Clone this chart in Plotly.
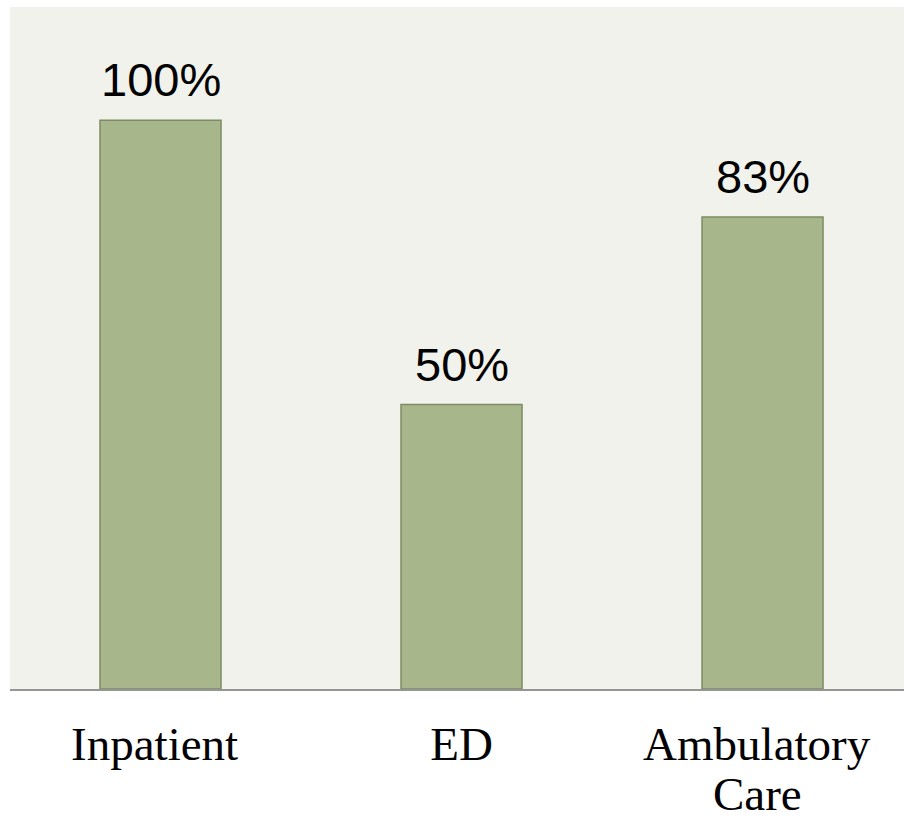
import plotly.graph_objects as go

categories = ["Inpatient", "ED", "Ambulatory Care"]
values = [100, 50, 83]
labels = ["100%", "50%", "83%"]
tick_lines = [["Inpatient\u00a0"], ["ED"], ["Ambulatory\u00a0", "Care\u00a0"]]

fig = go.Figure()
fig.add_trace(go.Bar(
    x=categories, y=values,
    width=0.402,
    marker=dict(color="#a7b78b", line=dict(color="#7d8c63", width=1.5)),
    hoverinfo="skip",
))
for c, v, t in zip(categories, values, labels):
    fig.add_annotation(x=c, y=v, text=t, showarrow=False, yanchor="bottom",
                       yshift=12, font=dict(family="Liberation Sans, Arial", size=47, color="#000"))

serif = dict(family="Liberation Serif, Times New Roman", size=47, color="#000")
for c, lines in zip(categories, tick_lines):
    for i, ln in enumerate(lines[1:], start=1):
        fig.add_annotation(x=c, y=0, text=ln, showarrow=False, yanchor="top",
                           yshift=-78 - 51 * (i - 1), font=serif, borderpad=0)

fig.update_layout(
    width=904, height=819,
    margin=dict(l=10, r=0, t=7, b=130),
    paper_bgcolor="white",
    plot_bgcolor="#f0f2eb",
    showlegend=False,
    xaxis=dict(range=[-0.5, 2.47], showgrid=False, showline=True, linecolor="#959595", linewidth=2,
               ticks="", tickfont=serif, automargin=False,
               tickmode="array", tickvals=categories, ticktext=[l[0] for l in tick_lines],
               ticklabelstandoff=13),
    yaxis=dict(range=[0, 119.9], showgrid=False, showticklabels=False, zeroline=False,
               showline=False, automargin=False),
)
fig.write_html("out.html")
